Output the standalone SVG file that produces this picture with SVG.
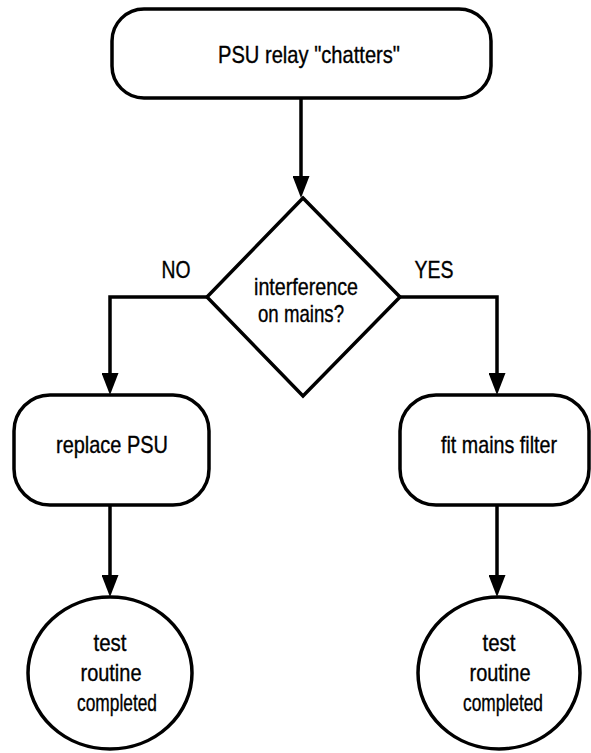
<svg xmlns="http://www.w3.org/2000/svg" width="591" height="753" viewBox="0 0 591 753">
  <style>
    .shape { fill: #ffffff; stroke: #000000; stroke-width: 3.5; }
    .wire { fill: none; stroke: #000000; stroke-width: 3.5; }
    text { font-family: "Liberation Sans", Arial, sans-serif; font-size: 24px; fill: #000000; stroke: #000000; stroke-width: 0.35; text-anchor: middle; }
  </style>
  <defs>
    <marker id="arrow" markerUnits="userSpaceOnUse" viewBox="0 0 22 17" markerWidth="22" markerHeight="17" refX="14" refY="8.5" orient="auto">
      <path d="M0,0 L22,8.5 L0,17 z" fill="#000000" stroke="none"/>
    </marker>
  </defs>
  <rect width="591" height="753" fill="#ffffff"/>

  <!-- connectors -->
  <g id="connectors">
    <path class="wire" d="M301,98 V190" marker-end="url(#arrow)"/>
    <path class="wire" d="M207,297 H110 V387" marker-end="url(#arrow)"/>
    <path class="wire" d="M400,297 H497 V387" marker-end="url(#arrow)"/>
    <path class="wire" d="M110,505 V589" marker-end="url(#arrow)"/>
    <path class="wire" d="M497,505 V589" marker-end="url(#arrow)"/>
  </g>

  <!-- branch labels -->
  <g id="labels">
    <text x="176" y="278" textLength="29" lengthAdjust="spacingAndGlyphs">NO</text>
    <text x="434" y="278" textLength="39" lengthAdjust="spacingAndGlyphs">YES</text>
  </g>

  <g id="start">
    <rect class="shape" x="112" y="9" width="379" height="89" rx="32" ry="32"/>
    <text x="309" y="63" textLength="182" lengthAdjust="spacingAndGlyphs">PSU relay "chatters"</text>
  </g>

  <g id="decision">
    <polygon class="shape" points="303,198 400,297 303,396 207,297"/>
    <text x="306" y="295" textLength="104" lengthAdjust="spacingAndGlyphs">interference</text>
    <text x="301" y="322" textLength="86" lengthAdjust="spacingAndGlyphs">on mains?</text>
  </g>

  <g id="replace-psu">
    <rect class="shape" x="14" y="395" width="195" height="110" rx="36" ry="36"/>
    <text x="112" y="453" textLength="112" lengthAdjust="spacingAndGlyphs">replace PSU</text>
  </g>

  <g id="fit-filter">
    <rect class="shape" x="400" y="395" width="189" height="110" rx="36" ry="36"/>
    <text x="499" y="453" textLength="116" lengthAdjust="spacingAndGlyphs">fit mains filter</text>
  </g>

  <g id="end-left">
    <ellipse class="shape" cx="110" cy="673" rx="82" ry="76"/>
    <text x="110" y="651" textLength="33" lengthAdjust="spacingAndGlyphs">test</text>
    <text x="111" y="681" textLength="61" lengthAdjust="spacingAndGlyphs">routine</text>
    <text x="117" y="711" textLength="80" lengthAdjust="spacingAndGlyphs">completed</text>
  </g>

  <g id="end-right">
    <ellipse class="shape" cx="499" cy="673" rx="81" ry="76"/>
    <text x="499" y="651" textLength="33" lengthAdjust="spacingAndGlyphs">test</text>
    <text x="500" y="681" textLength="61" lengthAdjust="spacingAndGlyphs">routine</text>
    <text x="503" y="711" textLength="80" lengthAdjust="spacingAndGlyphs">completed</text>
  </g>
</svg>
